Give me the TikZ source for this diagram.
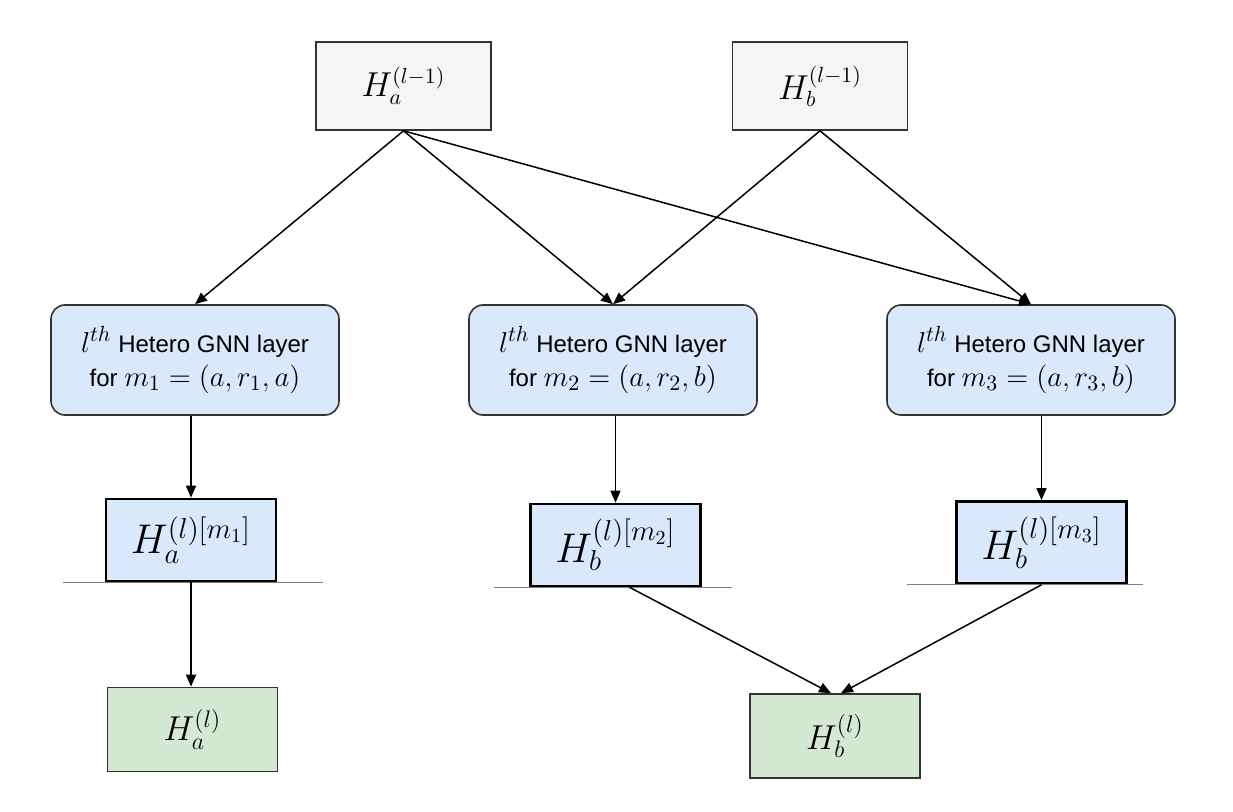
\documentclass[tikz,border=0pt]{standalone}
\usepackage{fontspec}
\setsansfont{Liberation Sans}
\usetikzlibrary{arrows.meta}
\definecolor{prevgray}{HTML}{F5F5F5}
\definecolor{layerblue}{HTML}{DAE8FC}
\definecolor{outgreen}{HTML}{D5E8D4}
\definecolor{edgegray}{HTML}{333333}
\newcommand{\lmath}[1]{{\fontsize{15}{17}\selectfont$#1$}}
\begin{document}
\begin{tikzpicture}[
 x=0.5pt,y=-0.5pt,
 every node/.style={inner sep=2pt},
 prevbox/.style={draw=edgegray,fill=prevgray,line width=0.8pt,
  minimum width=87.5pt,minimum height=44pt,font=\fontsize{16}{19}\selectfont},
 layerbox/.style={draw=edgegray,fill=layerblue,rounded corners=7pt,line width=0.8pt,
  minimum width=144pt,minimum height=55pt,align=center,
  font=\sffamily\fontsize{12}{17}\selectfont},
 msgbox/.style={draw=black,fill=layerblue,line width=1.3pt,
  minimum width=85pt,minimum height=41pt,font=\fontsize{20}{24}\selectfont},
 outbox/.style={draw=edgegray,fill=outgreen,line width=0.8pt,
  minimum width=85pt,minimum height=42pt,font=\fontsize{17}{20}\selectfont},
 flow/.style={-{Triangle[length=6pt,width=5pt]},line width=0.75pt},
 cut/.style={draw=gray,line width=0.5pt}
]
 \useasboundingbox (0,0) rectangle (1233,812);

 % previous layer
 \node[prevbox] (ha0) at (403.5,86) {$H_a^{(l-1)}$};
 \node[prevbox] (hb0) at (820,86) {$H_b^{(l-1)}$};

 % one GNN layer per metapath
 \node[layerbox] (lay1) at (195,360) {\lmath{l^{th}} Hetero GNN layer\\for \lmath{m_1=(a,r_1,a)}};
 \node[layerbox] (lay2) at (613,360) {\lmath{l^{th}} Hetero GNN layer\\for \lmath{m_2=(a,r_2,b)}};
 \node[layerbox] (lay3) at (1031,360) {\lmath{l^{th}} Hetero GNN layer\\for \lmath{m_3=(a,r_3,b)}};

 % per-metapath outputs
 \node[msgbox] (ma) at (191,540) {$H_a^{(l)[m_1]}$};
 \node[msgbox] (mb) at (615.5,545) {$H_b^{(l)[m_2]}$};
 \node[msgbox] (mc) at (1041.5,542.5) {$H_b^{(l)[m_3]}$};
 \draw[cut] ([xshift=-21pt]ma.south west) -- ([xshift=23pt]ma.south east);
 \draw[cut] ([xshift=-17.5pt]mb.south west) -- ([xshift=15pt]mb.south east);
 \draw[cut] ([xshift=-24pt]mc.south west) -- ([xshift=7.5pt]mc.south east);

 % aggregated
 \node[outbox] (outa) at (192.5,729.5) {$H_a^{(l)}$};
 \node[outbox] (outb) at (835,736) {$H_b^{(l)}$};

 \draw[flow] (ha0.south) -- (lay1.north);
 \draw[flow] (ha0.south) -- (lay2.north);
 \draw[flow] (ha0.south) -- (lay3.north);
 \draw[flow] (hb0.south) -- (lay2.north);
 \draw[flow] (hb0.south) -- (lay3.north);

 \draw[flow] (lay1.south -| ma.north) -- (ma.north);
 \draw[flow] (lay2.south -| mb.north) -- (mb.north);
 \draw[flow] (lay3.south -| mc.north) -- (mc.north);

 \draw[flow] (ma.south) -- (ma.south |- outa.north);
 \draw[flow] ([xshift=7pt]mb.south) -- ([xshift=-2pt]outb.north);
 \draw[flow] (mc.south) -- ([xshift=3pt]outb.north);
\end{tikzpicture}
\end{document}
